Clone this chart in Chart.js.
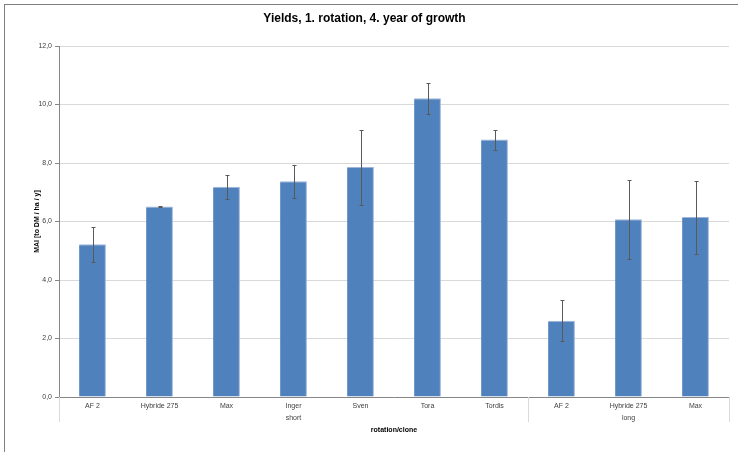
<!DOCTYPE html>
<html>
<head>
<meta charset="utf-8">
<script src="https://cdn.jsdelivr.net/npm/chart.js@4/dist/chart.umd.min.js"></script>
<style>
html, body { margin: 0; padding: 0; background: #fff; overflow: hidden; }
#wrap { position: absolute; left: 0; top: 0; width: 738px; height: 452px; }
#frame { position: absolute; left: 4px; top: 4px; width: 800px; height: 500px; border: 1px solid #7f7f7f; pointer-events: none; }
</style>
</head>
<body>
<div id="wrap">
	<canvas id="yield_canvas" width="738" height="452"></canvas>
	<div id="frame"></div>
</div>
<script>
// clone names on the first axis level, rotation groups on the second
var clones = ['AF 2', 'Hybride 275', 'Max', 'Inger', 'Sven', 'Tora', 'Tordis', 'AF 2', 'Hybride 275', 'Max'];
var rotations = ['short', 'long'];
var rotationSizes = [7, 3];

// MAI [to DM / ha / y] and the +/- error
var maiValues = [5.22, 6.51, 7.19, 7.38, 7.86, 10.21, 8.80, 2.61, 6.08, 6.15];
var maiErrors = [0.60, 0.01, 0.41, 0.56, 1.28, 0.52, 0.34, 0.69, 1.35, 1.25];

var yTicks = [0, 2, 4, 6, 8, 10, 12];

var fontFamily = "'Liberation Sans', Arial, sans-serif";

var errorBarPlugin = {
	id: 'errorBars',
	afterDatasetsDraw: function(chart) {
		var ctx = chart.ctx;
		var yScale = chart.scales.y;
		var meta = chart.getDatasetMeta(0);
		ctx.save();
		ctx.strokeStyle = '#595959';
		ctx.lineWidth = 1;
		meta.data.forEach(function(bar, i) {
			var x = Math.round(bar.x) + 0.5;
			var top = Math.round(yScale.getPixelForValue(maiValues[i] + maiErrors[i])) + 0.5;
			var bot = Math.round(yScale.getPixelForValue(maiValues[i] - maiErrors[i])) + 0.5;
			ctx.beginPath();
			ctx.moveTo(x, top);
			ctx.lineTo(x, bot);
			ctx.moveTo(x - 2, top);
			ctx.lineTo(x + 2, top);
			ctx.moveTo(x - 2, bot);
			ctx.lineTo(x + 2, bot);
			ctx.stroke();
		});
		ctx.restore();
	}
};

var groupAxisPlugin = {
	id: 'groupAxis',
	afterDraw: function(chart) {
		var ctx = chart.ctx;
		var xs = chart.scales.x;
		var n = clones.length;
		function edge(k) {
			if (k <= 0) return xs.left;
			if (k >= n) return xs.right;
			return (xs.getPixelForValue(k - 1) + xs.getPixelForValue(k)) / 2;
		}
		ctx.save();
		ctx.strokeStyle = '#d9d9d9';
		ctx.lineWidth = 1;
		ctx.fillStyle = '#404040';
		ctx.font = '7px ' + fontFamily;
		ctx.textAlign = 'center';
		ctx.textBaseline = 'middle';
		var start = 0;
		var lines = [edge(0)];
		rotations.forEach(function(name, g) {
			var end = start + rotationSizes[g];
			var x0 = edge(start), x1 = edge(end);
			lines.push(x1);
			ctx.fillText(name, (x0 + x1) / 2, xs.top + 21);
			start = end;
		});
		lines.forEach(function(x) {
			var px = Math.round(x) + 0.5;
			ctx.beginPath();
			ctx.moveTo(px, xs.top);
			ctx.lineTo(px, xs.top + 25);
			ctx.stroke();
		});
		ctx.restore();
	}
};

var ctx = document.getElementById('yield_canvas').getContext('2d');

var yieldChart = new Chart(ctx, {
	type: 'bar',
	data: {
		labels: clones,
		datasets: [{
			data: maiValues,
			backgroundColor: '#4f81bd',
			borderColor: '#9db5da',
			borderWidth: { top: 1, right: 1, left: 0, bottom: 0 },
			borderSkipped: false,
			categoryPercentage: 1.0,
			barPercentage: 0.4
		}]
	},
	options: {
		responsive: false,
		animation: false,
		layout: { padding: { left: 0, right: 9, top: 0, bottom: 0 } },
		plugins: {
			legend: { display: false },
			tooltip: { enabled: false },
			title: {
				display: true,
				text: 'Yields, 1. rotation, 4. year of growth',
				color: '#000',
				font: { family: fontFamily, size: 12, weight: 'bold' },
				padding: { top: 11, bottom: 20.6 }
			}
		},
		scales: {
			x: {
				grid: { display: true, color: 'rgba(0,0,0,0)', drawTicks: false },
				border: { display: true, color: '#868686' },
				ticks: {
					color: '#404040',
					font: { family: fontFamily, size: 7 },
					padding: 5,
					maxRotation: 0,
					autoSkip: false
				},
				title: {
					display: true,
					text: 'rotation/clone',
					color: '#000',
					font: { family: fontFamily, size: 7, weight: 'bold' },
					padding: { top: 0, bottom: 18 }
				},
				afterFit: function(scale) { scale.height = 55; }
			},
			y: {
				min: 0,
				max: 12,
				afterBuildTicks: function(scale) {
					scale.ticks = yTicks.map(function(v) { return { value: v }; });
				},
				grid: { color: '#d9d9d9', tickColor: '#868686', tickLength: 4 },
				border: { display: true, color: '#868686' },
				ticks: {
					color: '#404040',
					font: { family: fontFamily, size: 7 },
					padding: 3,
					callback: function(value) { return value.toFixed(1).replace('.', ','); }
				},
				title: {
					display: true,
					text: 'MAI [to DM / ha / y]',
					color: '#000',
					font: { family: fontFamily, size: 7, weight: 'bold' },
					padding: { top: 33, bottom: 0 }
				},
				afterFit: function(scale) { scale.width = 59; }
			}
		}
	},
	plugins: [errorBarPlugin, groupAxisPlugin]
});
</script>
</body>
</html>
